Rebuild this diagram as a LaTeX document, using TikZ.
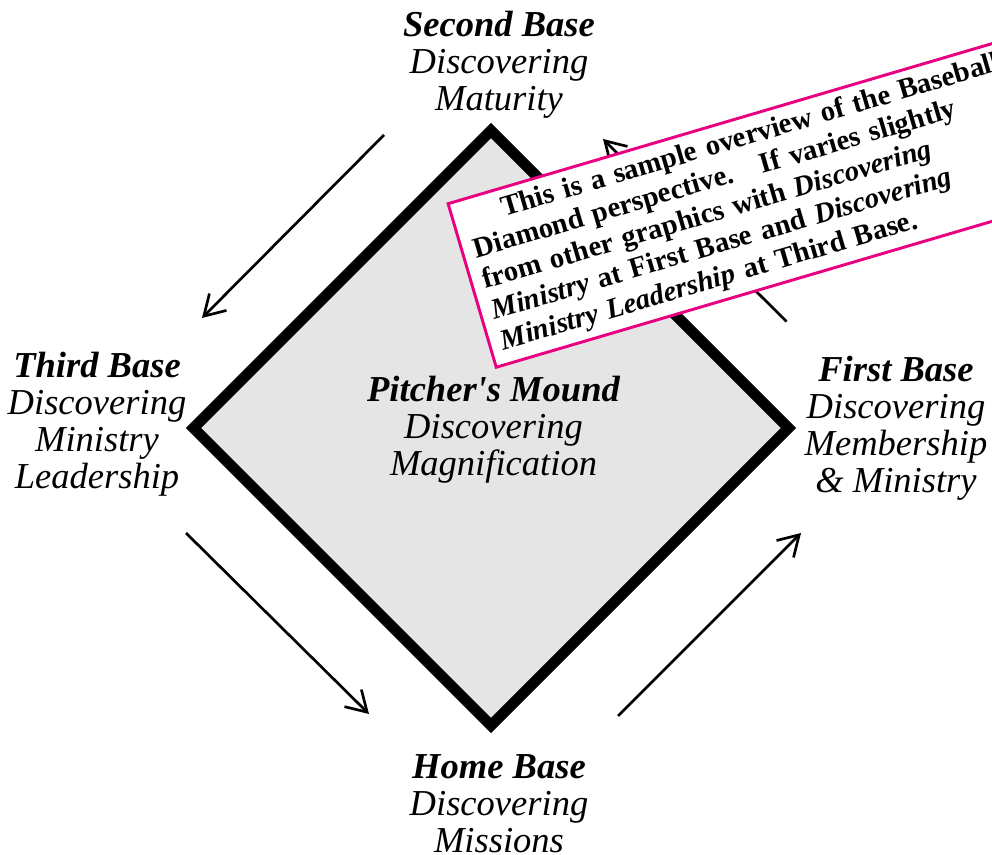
\documentclass[tikz,border=0pt]{standalone}
\usepackage{fontspec}
\setmainfont{Liberation Serif}
\usepackage{tikz}
\usetikzlibrary{arrows.meta}
\usetikzlibrary{positioning}
\definecolor{moundgray}{RGB}{229,229,229}
\definecolor{notepink}{RGB}{232,0,128}

\begin{document}
\begin{tikzpicture}[x=0.75pt, y=-0.75pt,
    baselabel/.style={anchor=north, align=center, inner sep=0pt,
      font=\fontsize{27.4pt}{27.75pt}\selectfont\itshape},
    runarrow/.style={line width=2pt, -{Straight Barb[length=15pt,width=18pt]}},
    notebox/.style={draw=notepink, line width=2.2pt, fill=white, rotate=16.4,
      anchor=north west, align=left, text width=430pt, inner xsep=9pt, inner ysep=6pt,
      font=\fontsize{21.6pt}{24pt}\selectfont\bfseries}]
      \useasboundingbox (0,0) rectangle (992,855);
      \coordinate (sb) at (491,130.5);
      \coordinate (fb) at (788.5,428);
      \coordinate (hb) at (491,725.5);
      \coordinate (tb) at (193.5,428);
      \draw[line width=8pt, line join=miter, fill=moundgray] (sb) -- (fb) -- (hb) -- (tb) -- cycle;
      \coordinate (a1) at (384,135);   \coordinate (a1tip) at (202,318);
      \coordinate (a2) at (186,533);   \coordinate (a2tip) at (369,714);
      \coordinate (a3) at (618,716);   \coordinate (a3tip) at (801,533);
      \coordinate (a4) at (786.5,321.5); \coordinate (a4tip) at (603,139);
      \draw[runarrow] (a1) -- (a1tip);
      \draw[runarrow] (a2) -- (a2tip);
      \draw[runarrow] (a3) -- (a3tip);
      \draw[runarrow] (a4) -- (a4tip);
      \node[baselabel] (second) at (499,11) {\textbf{Second Base}\\Discovering\\Maturity};
      \node[baselabel] (third) at (97,352) {\textbf{Third Base}\\Discovering\\Ministry\\Leadership};
      \node[baselabel] (first) at (896,356) {\textbf{First Base}\\Discovering\\Membership\\\& Ministry};
      \node[baselabel] (home) at (499,754) {\textbf{Home Base}\\Discovering\\Missions};
      \node[baselabel] (mound) at (493.5,375.5) {\textbf{Pitcher\textquotesingle s Mound}\\Discovering\\Magnification};
      \node[notebox] (note) at (446.3,202.7) {\hspace*{28.5pt}This is a sample overview of the Baseball\\
        Diamond perspective.\ \ \ If varies slightly\\
        from other graphics with \textit{Discovering}\\
        \textit{Ministry} at First Base and \textit{Discovering}\\
        \textit{Ministry Leadership} at Third Base.};
    \end{tikzpicture}
\end{document}
